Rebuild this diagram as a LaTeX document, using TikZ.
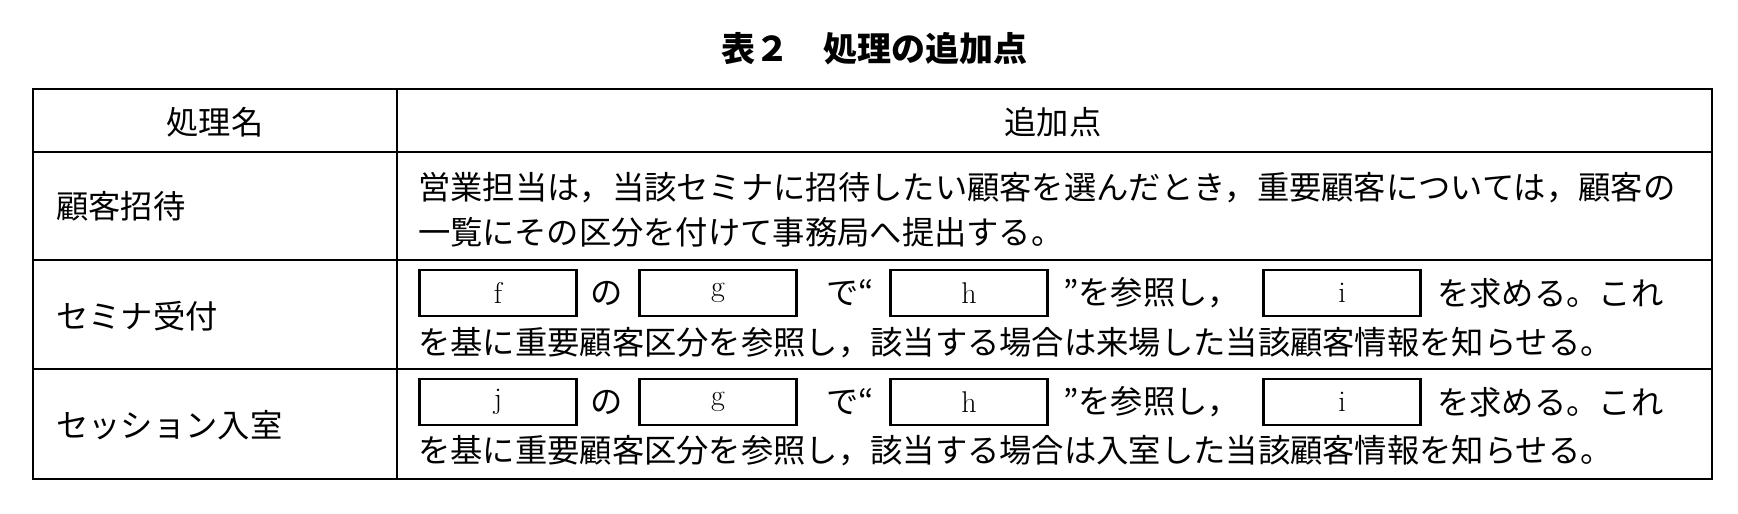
\documentclass[tikz,border=0pt]{standalone}
\usepackage{fontspec}
\newfontfamily\jp{Noto Sans CJK JP}
\begin{document}
\begin{tikzpicture}[x=1pt,y=-1pt,
  txt/.style={font=\jp\fontsize{32.3}{32}\selectfont, inner sep=0pt, anchor=west},
  ctxt/.style={font=\jp\fontsize{32.3}{32}\selectfont, inner sep=0pt},
  blank/.style={draw, line width=2.5pt, minimum width=157pt, minimum height=46pt, inner sep=0pt, font=\fontsize{30}{30}\selectfont},
  rule/.style={line width=1.8pt}]
\useasboundingbox (0,0) rectangle (1738,514);
\node[ctxt, font=\jp\bfseries\fontsize{34}{34}\selectfont] (title) at (874,49) {表２　処理の追加点};
% table
\draw[rule] (33,89) rectangle (1712,479);
\draw[rule] (33,152) -- (1712,152);
\draw[rule] (33,260) -- (1712,260);
\draw[rule] (33,369) -- (1712,369);
\draw[rule] (397,89) -- (397,479);
% header
\node[ctxt] (h1) at (215,122) {処理名};
\node[ctxt] (h2) at (1053,122) {追加点};
% row 1
\node[txt] (r1a) at (56,206) {顧客招待};
\node[txt] (r1b) at (418,188) {営業担当は，当該セミナに招待したい顧客を選んだとき，重要顧客については，顧客の};
\node[txt] (r1c) at (418,232) {一覧にその区分を付けて事務局へ提出する。};
% row 2
\node[txt] (r2a) at (56,316) {セミナ受付};
\node[blank] (b1) at (498,293) {\raisebox{0pt}[\height][0pt]{f}};
\node[ctxt] (o1) at (607,293) {の};
\node[blank] (b2) at (718,293) {\raisebox{4pt}{g}};
\node[ctxt] (d1) at (850,293) {で“};
\node[blank] (b3) at (969,293) {h};
\node[txt] (s1) at (1063,293) {”を参照し，};
\node[blank] (b4) at (1342,293) {i};
\node[txt] (e1) at (1437,293) {を求める。これ};
\node[txt] (r2l) at (418,343) {を基に重要顧客区分を参照し，該当する場合は来場した当該顧客情報を知らせる。};
% row 3
\node[txt] (r3a) at (56,425) {セッション入室};
\node[blank] (c1) at (498,402) {\raisebox{4pt}{j}};
\node[ctxt] (o2) at (607,402) {の};
\node[blank] (c2) at (718,402) {\raisebox{4pt}{g}};
\node[ctxt] (d2) at (850,402) {で“};
\node[blank] (c3) at (969,402) {h};
\node[txt] (s2) at (1063,402) {”を参照し，};
\node[blank] (c4) at (1342,402) {i};
\node[txt] (e2) at (1437,402) {を求める。これ};
\node[txt] (r3l) at (418,451) {を基に重要顧客区分を参照し，該当する場合は入室した当該顧客情報を知らせる。};
\end{tikzpicture}
\end{document}
